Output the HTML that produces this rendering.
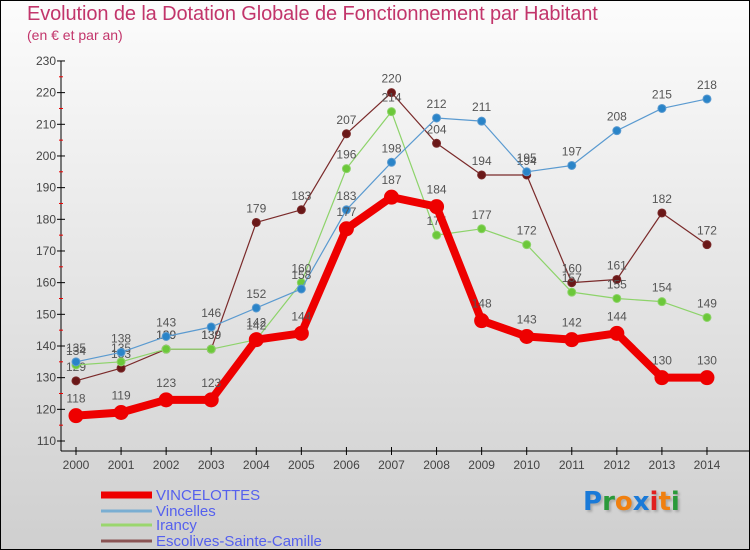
<!DOCTYPE html>
<html><head><meta charset="utf-8"><style>
body{margin:0}
#c{position:relative;width:748px;height:548px;border:1px solid #000;background:linear-gradient(#fcfcfc,#cfcfcf);overflow:hidden;font-family:"Liberation Sans",sans-serif}
.t{position:absolute;color:#c2356b}
</style></head><body>
<div id="c">
<div class="t" style="left:26px;top:2px;font-size:20px;letter-spacing:-0.1px">Evolution de la Dotation Globale de Fonctionnement par Habitant</div>
<div class="t" style="left:26px;top:26px;font-size:14px">(en € et par an)</div>
<svg id="s" width="748" height="548" style="position:absolute;left:0;top:0"></svg>
<div style="position:absolute;left:582px;top:486px;font-size:26px;font-family:'DejaVu Sans',sans-serif;font-weight:bold;text-shadow:2px 2px 2px #aaa"><span style="color:#1a7ad8">P</span><span style="color:#2a9a3a">r</span><span style="color:#f08010">o</span><span style="color:#1a7ad8">x</span><span style="color:#e02020">i</span><span style="color:#f08010">t</span><span style="color:#2a9a3a">i</span></div>
</div>
<script>
const years=[2000,2001,2002,2003,2004,2005,2006,2007,2008,2009,2010,2011,2012,2013,2014];
const vincelottes=[118,119,123,123,142,144,177,187,184,148,143,142,144,130,130];
const vincelles=[135,138,143,146,152,158,183,198,212,211,195,197,208,215,218];
const irancy=[134,135,139,139,142,160,196,214,175,177,172,157,155,154,149];
const escolives=[129,133,139,139,179,183,207,220,204,194,194,160,161,182,172];
const yTicks=[110,120,130,140,150,160,170,180,190,200,210,220,230];
const NS="http://www.w3.org/2000/svg";
const svg=document.getElementById('s');
const X=i=>75+i*45.07;
const Y=v=>440-(v-110)*3.167;
function el(t,a,p){const e=document.createElementNS(NS,t);for(const k in a)e.setAttribute(k,a[k]);(p||svg).appendChild(e);return e;}
function tx(x,y,s,a,sz,col){const e=el('text',{x:x,y:y,'text-anchor':a,'font-size':sz||12,fill:col||'#444','font-family':'Liberation Sans, sans-serif'});e.textContent=s;return e;}
let ax=el('line',{x1:60,y1:60,x2:60,y2:450,stroke:'#000'});


let bx=el('line',{x1:60,y1:450,x2:748,y2:450,stroke:'#000'});


yTicks.forEach(v=>{el('line',{x1:56,x2:64,y1:Y(v),y2:Y(v),stroke:'#000'});
 if(v<230)el('line',{x1:58,x2:62,y1:Y(v+5),y2:Y(v+5),stroke:'#e00'});
 const t=tx(55,Y(v)+4,String(v),'end',12);
 
 });
years.forEach((y,i)=>{el('line',{x1:X(i),x2:X(i),y1:446,y2:454,stroke:'#000'});
 const t=tx(X(i),468,String(y),'middle',12);
 
 });
function series(data,col,w,r,name,dot){
 const g=el('g',{});
 
 
 el('polyline',{points:data.map((v,i)=>X(i)+','+Y(v)).join(' '),fill:'none',stroke:col,'stroke-width':w,'stroke-linejoin':'round'},g);
 data.forEach((v,i)=>{el('circle',{cx:X(i),cy:Y(v),r:r,fill:dot,stroke:col,'stroke-width':1},g);
  tx(X(i),Y(v)-(r+6),String(v),'middle',12,'#555');});
}
series(escolives,'#7a2a2a',1.2,4,'series-escolives','#6a1818');
series(irancy,'#8dd36a',1.2,4,'series-irancy','#6cc83a');
series(vincelles,'#5a9ad0',1.2,4,'series-vincelles','#2a84c8');
series(vincelottes,'#ee0000',8,7,'series-vincelottes','#ee0000');
const leg=[['VINCELOTTES','#ee0000',7],['Vincelles','#7aaed2',3],['Irancy','#9ad66e',3],['Escolives-Sainte-Camille','#8a5454',3]];
const ly=[493,509,523,539];
leg.forEach((l,i)=>{const g=el('g',{});
 
 
 el('line',{x1:100,x2:151,y1:ly[i]+1,y2:ly[i]+1,stroke:l[1],'stroke-width':l[2]},g);
 const t=tx(155,ly[i]+6,l[0],'start',15,'#5560ee');g.appendChild(t);});
</script>
</body></html>
